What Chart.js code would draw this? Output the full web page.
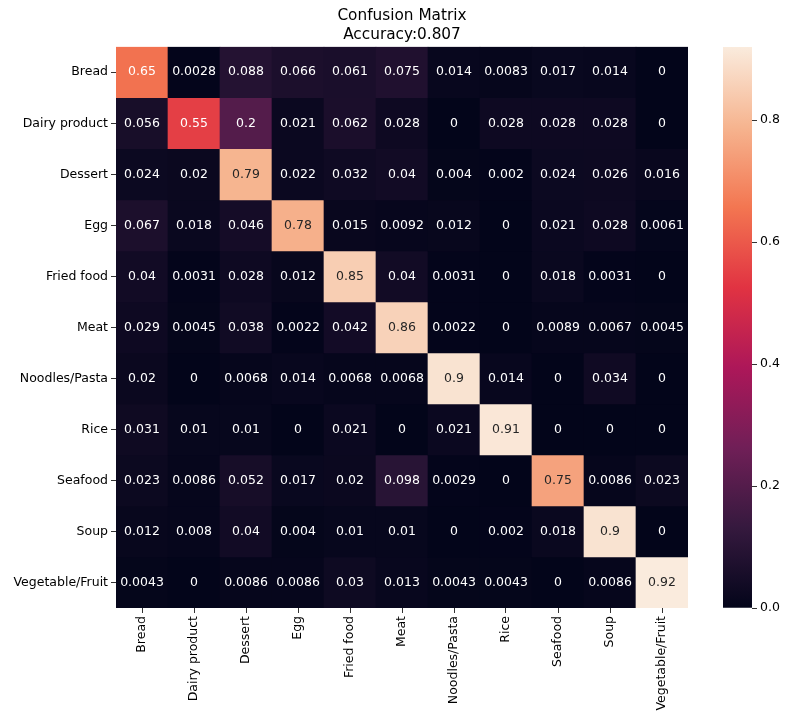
<!DOCTYPE html>
<html>
<head>
<meta charset="utf-8">
<script src="https://cdn.jsdelivr.net/npm/chart.js@4"></script>
<style>
  body { margin: 0; background: #fff; }
  #wrap { position: relative; width: 788px; height: 720px; }
  #matrix { position: absolute; left: 0; top: 0; }
  #colorbar { position: absolute; left: 700px; top: 0; }
</style>
</head>
<body>
<div id="wrap">
  <canvas id="matrix" width="700" height="720"></canvas>
  <canvas id="colorbar" width="88" height="720"></canvas>
</div>
<script>
// Clases (filas = real, columnas = predicho)
const categories = ['Bread', 'Dairy product', 'Dessert', 'Egg', 'Fried food', 'Meat',
  'Noodles/Pasta', 'Rice', 'Seafood', 'Soup', 'Vegetable/Fruit'];

const matrix = [
  [0.65, 0.0028, 0.088, 0.066, 0.061, 0.075, 0.014, 0.0083, 0.017, 0.014, 0],
  [0.056, 0.55, 0.2, 0.021, 0.062, 0.028, 0, 0.028, 0.028, 0.028, 0],
  [0.024, 0.02, 0.79, 0.022, 0.032, 0.04, 0.004, 0.002, 0.024, 0.026, 0.016],
  [0.067, 0.018, 0.046, 0.78, 0.015, 0.0092, 0.012, 0, 0.021, 0.028, 0.0061],
  [0.04, 0.0031, 0.028, 0.012, 0.85, 0.04, 0.0031, 0, 0.018, 0.0031, 0],
  [0.029, 0.0045, 0.038, 0.0022, 0.042, 0.86, 0.0022, 0, 0.0089, 0.0067, 0.0045],
  [0.02, 0, 0.0068, 0.014, 0.0068, 0.0068, 0.9, 0.014, 0, 0.034, 0],
  [0.031, 0.01, 0.01, 0, 0.021, 0, 0.021, 0.91, 0, 0, 0],
  [0.023, 0.0086, 0.052, 0.017, 0.02, 0.098, 0.0029, 0, 0.75, 0.0086, 0.023],
  [0.012, 0.008, 0.04, 0.004, 0.01, 0.01, 0, 0.002, 0.018, 0.9, 0],
  [0.0043, 0, 0.0086, 0.0086, 0.03, 0.013, 0.0043, 0.0043, 0, 0.0086, 0.92]
];

const colorbarTicks = [0, 0.2, 0.4, 0.6, 0.8];
const accuracy = '0.807';

const vmax = Math.max(...matrix.flat());

// Paleta "rocket" aproximada
const rocketStops = [
  [0, '#03051a'], [1 / 7, '#35193e'], [2 / 7, '#701f57'], [3 / 7, '#ad1759'],
  [4 / 7, '#e13342'], [5 / 7, '#f37651'], [6 / 7, '#f6b48f'], [1, '#faebdd']
];

function hexToRgb(h) {
  return [parseInt(h.slice(1, 3), 16), parseInt(h.slice(3, 5), 16), parseInt(h.slice(5, 7), 16)];
}

function rocketRgb(t) {
  t = Math.max(0, Math.min(1, t));
  for (let i = 1; i < rocketStops.length; i++) {
    if (t <= rocketStops[i][0]) {
      const [p0, c0] = rocketStops[i - 1];
      const [p1, c1] = rocketStops[i];
      const f = (t - p0) / (p1 - p0);
      const a = hexToRgb(c0), b = hexToRgb(c1);
      return a.map((v, k) => Math.round(v + (b[k] - v) * f));
    }
  }
  return hexToRgb(rocketStops[rocketStops.length - 1][1]);
}

function cellColor(v) {
  const [r, g, b] = rocketRgb(v / vmax);
  return `rgb(${r},${g},${b})`;
}

function textColor(v) {
  const lin = rocketRgb(v / vmax).map(c => {
    c /= 255;
    return c <= 0.03928 ? c / 12.92 : Math.pow((c + 0.055) / 1.055, 2.4);
  });
  const lum = 0.2126 * lin[0] + 0.7152 * lin[1] + 0.0722 * lin[2];
  return lum > 0.408 ? '#262626' : '#ffffff';
}

function fmt(v) {
  return Number(v.toPrecision(2)).toString();
}

const FONT = 'DejaVu Sans';
Chart.defaults.font.family = FONT;
Chart.defaults.color = '#000';

// Texto dentro de cada celda
const annotPlugin = {
  id: 'annot',
  afterDatasetsDraw(chart) {
    const ctx = chart.ctx;
    ctx.save();
    ctx.font = `12.5px "${FONT}"`;
    ctx.textAlign = 'center';
    ctx.textBaseline = 'middle';
    chart.data.datasets.forEach((ds, r) => {
      chart.getDatasetMeta(r).data.forEach((bar, c) => {
        const p = bar.getCenterPoint();
        const v = matrix[r][c];
        ctx.fillStyle = textColor(v);
        ctx.fillText(fmt(v), p.x, p.y);
      });
    });
    ctx.restore();
  }
};

// Una serie por fila: barras flotantes [fila, fila+1]
const datasets = categories.map((name, r) => ({
  label: name,
  data: matrix[r].map(() => [r, r + 1]),
  backgroundColor: matrix[r].map(cellColor),
  borderWidth: 0,
  borderSkipped: false,
  grouped: false,
  barPercentage: 1,
  categoryPercentage: 1
}));

new Chart(document.getElementById('matrix'), {
  type: 'bar',
  data: { labels: categories, datasets: datasets },
  options: {
    responsive: false,
    animation: false,
    layout: { padding: { left: 0, right: 12, top: 0, bottom: 0 } },
    plugins: {
      legend: { display: false },
      tooltip: { enabled: false },
      title: {
        display: true,
        fullSize: false,
        text: ['Confusion Matrix', 'Accuracy:' + accuracy],
        font: { size: 15.3, weight: 'normal', lineHeight: 1.2 },
        color: '#000',
        padding: { top: 7, bottom: 3 }
      }
    },
    scales: {
      x: {
        type: 'category',
        border: { display: false },
        grid: { offset: false, drawOnChartArea: false, tickLength: 5, tickColor: '#333' },
        ticks: { autoSkip: false, maxRotation: 90, minRotation: 90, padding: 3, font: { size: 12.5 } },
        afterFit(scale) { scale.height = 112; }
      },
      y: {
        type: 'linear',
        reverse: true,
        min: 0,
        max: categories.length,
        border: { display: false },
        grid: { drawOnChartArea: false, tickLength: 5, tickColor: '#333' },
        ticks: {
          autoSkip: false,
          padding: 3,
          font: { size: 12.5 },
          callback: (value, index) => categories[index]
        },
        afterBuildTicks(scale) {
          scale.ticks = categories.map((_, i) => ({ value: i + 0.5 }));
        },
        afterFit(scale) { scale.width = 116; }
      }
    }
  },
  plugins: [annotPlugin]
});

// Barra de color
new Chart(document.getElementById('colorbar'), {
  type: 'bar',
  data: {
    labels: [''],
    datasets: [{
      data: [[0, vmax]],
      borderWidth: 0,
      borderSkipped: false,
      barPercentage: 1,
      categoryPercentage: 1,
      backgroundColor(context) {
        const { ctx, chartArea } = context.chart;
        if (!chartArea) return '#000';
        const g = ctx.createLinearGradient(0, chartArea.bottom, 0, chartArea.top);
        rocketStops.forEach(([p, c]) => g.addColorStop(p, c));
        return g;
      }
    }]
  },
  options: {
    responsive: false,
    animation: false,
    layout: { padding: { left: 23, right: 0, top: 47, bottom: 112 } },
    plugins: { legend: { display: false }, tooltip: { enabled: false } },
    scales: {
      x: { display: false },
      y: {
        position: 'right',
        min: 0,
        max: vmax,
        border: { display: false },
        grid: { drawOnChartArea: false, tickLength: 5, tickColor: '#333' },
        ticks: { padding: 3, font: { size: 12.5 }, callback: v => v.toFixed(1) },
        afterBuildTicks(scale) {
          scale.ticks = colorbarTicks.map(v => ({ value: v }));
        },
        afterFit(scale) { scale.width = 36; }
      }
    }
  }
});
</script>
</body>
</html>
